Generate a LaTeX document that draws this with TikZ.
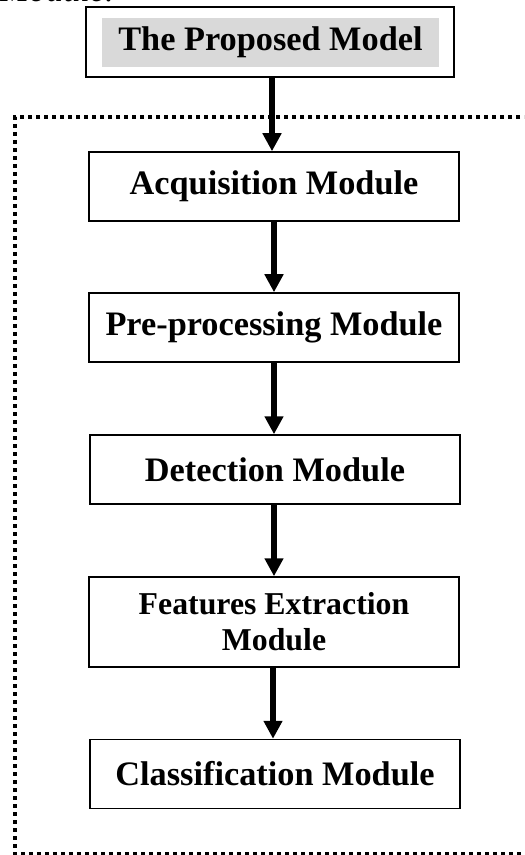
\documentclass[tikz,border=0pt]{standalone}
\usepackage{fontspec}
\setmainfont{Liberation Serif}
\usetikzlibrary{arrows.meta}

\tikzset{
  modbox/.style={draw=black, line width=0.75pt, fill=white,
    minimum width=185pt, minimum height=34.5pt, inner sep=0pt,
    font=\fontsize{17.15pt}{20pt}\selectfont\bfseries, align=center},
  flow/.style={line width=2.8pt,
    -{Triangle[length=9pt, width=9pt]}},
  groupline/.style={line width=2pt, dash pattern=on 2pt off 2pt, line cap=butt}
}

\begin{document}
\begin{tikzpicture}[x=0.5pt, y=-0.5pt]
  \useasboundingbox (0,0) rectangle (524,855);
  \clip (0,0) rectangle (524,855);
  \fill[white] (0,0) rectangle (524,855);

  % caption fragment from the preceding line of text
  \node[anchor=base west, inner sep=0pt,
        font=\fontsize{17.15pt}{20pt}\selectfont\itshape] (captxt) at (0,2) {Module.};

  % grouping frame around the module chain
  \draw[groupline] (560,117) -- (15,117) -- (15,854) -- (560,854);

  % heading box with shaded label
  \node[draw=black, line width=1pt, minimum width=184pt, minimum height=35pt,
        inner sep=0pt] (top) at (270,42) {};
  \node[fill=black!15, minimum width=168.5pt, minimum height=24.5pt, inner sep=0pt,
        font=\fontsize{17.15pt}{20pt}\selectfont\bfseries] (toplbl) at (270.5,42.5)
        {The Proposed Model};

  % module chain
  \node[modbox] (acq)  at (274,186.5) {Acquisition Module};
  \node[modbox] (pre)  at (274,327.5) {Pre-processing Module};
  \node[modbox] (det)  at (275,469.5) {Detection Module};
  \node[modbox, minimum height=45pt,
        font=\fontsize{15.9pt}{18pt}\selectfont\bfseries] (feat) at (274,622)
        {Features Extraction\\Module};
  \node[modbox] (cls)  at (275,774) {Classification Module};

  % vertical lines along which the connectors run
  \coordinate (xa) at (272,0);
  \coordinate (xb) at (274,0);
  \coordinate (xc) at (273,0);

  % connectors
  \draw[flow] (top.south -| xa) -- (acq.north -| xa);
  \draw[flow] (acq.south -| xb) -- (pre.north -| xb);
  \draw[flow] (pre.south -| xb) -- (det.north -| xb);
  \draw[flow] (det.south -| xb) -- (feat.north -| xb);
  \draw[flow] (feat.south -| xc) -- (cls.north -| xc);
\end{tikzpicture}
\end{document}
